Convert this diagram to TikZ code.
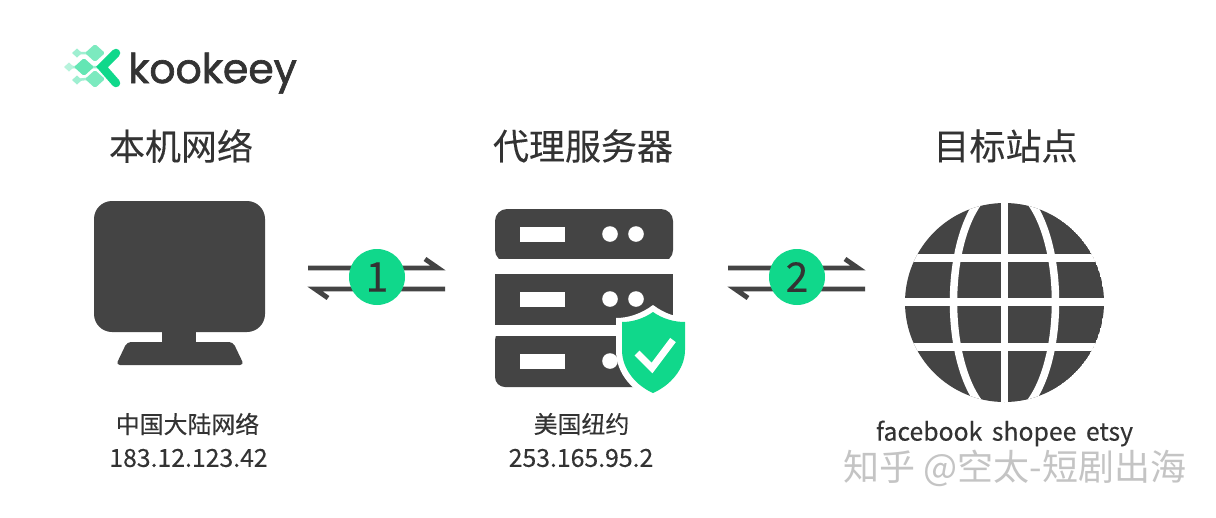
\documentclass[tikz,border=0pt]{standalone}
\usepackage{fontspec}
\setmainfont{Noto Sans CJK SC}[FakeBold=0.25]
\newfontfamily\logofont{Poppins}[FakeBold=1.6]
\newfontfamily\wmfont{Noto Sans CJK SC}
\definecolor{ink}{HTML}{444444}
\definecolor{txt}{HTML}{333333}
\definecolor{mint}{HTML}{10D88B}
\definecolor{wm}{HTML}{C4C4C4}
\tikzset{
  title/.style={text=txt,font=\fontsize{36}{36}\selectfont,inner sep=0pt,anchor=center},
  sub/.style={text=txt,font=\fontsize{23.9}{24}\selectfont,inner sep=0pt,anchor=center},
  num/.style={text=txt,font=\fontsize{24.8}{25}\selectfont,inner sep=0pt,anchor=center},
  wire/.style={draw=ink,line width=4.8pt,line join=miter,miter limit=10},
  badge/.style={circle,fill=mint,minimum size=56pt,inner sep=0pt,text=txt,font=\fontsize{41}{41}\selectfont},
  gridline/.style={draw=white,line width=7.5pt},
  slot/.style={fill=white},
}
\begin{document}
\begin{tikzpicture}[x=1pt,y=-1pt]
\useasboundingbox (0,0) rectangle (1216,517);
\fill[white] (0,0) rectangle (1216,517);
% logo
\draw[mint!40,line width=2.5pt] (77,53) -- (95,53) (69,67) -- (84,67) -- (103,67) (77,80) -- (95,78);
\fill[mint!55,rounded corners=1.5pt] (85,53) -- (95,44) -- (105,53) -- (95,62) -- cycle;
\fill[mint!65,rounded corners=1.5pt] (74,67) -- (84,58) -- (94,67) -- (84,76) -- cycle;
\fill[mint!55,rounded corners=1.5pt] (85,79) -- (95,70) -- (105,79) -- (95,88) -- cycle;
\fill[mint!40] (72,53) -- (77,48.5) -- (82,53) -- (77,57.5) -- cycle;
\fill[mint!30] (64,67) -- (69,62.5) -- (74,67) -- (69,71.5) -- cycle;
\fill[mint!40] (72,80) -- (77,75.5) -- (82,80) -- (77,84.5) -- cycle;
\draw[mint,line width=8.5pt,line cap=round,line join=miter] (116,53) -- (102,67) -- (116,83);
\node[anchor=base west,inner sep=0pt,text=txt] (logo) at (128,83) {\logofont\fontsize{41}{41}\selectfont kookeey};
% titles
\node[title] (t1) at (181,146) {本机网络};
\node[title] (t2) at (583,146) {代理服务器};
\node[title] (t3) at (1005.5,146) {目标站点};
% monitor
\fill[ink,rounded corners=18pt] (94,201) rectangle (265,332);
\fill[ink] (162,330) rectangle (196,344);
\fill[ink,rounded corners=4pt] (127,342) -- (233,342) -- (244,365) -- (116,365) -- cycle;
% server
\fill[ink,rounded corners=12pt] (495,262) -- (495,209) -- (673,209) -- (673,262) -- cycle;
\fill[white] (490,259) rectangle (680,268);
\fill[ink] (495,274) rectangle (673,325);
\fill[ink,rounded corners=10pt] (495,330) -- (673,330) -- (673,387) -- (495,387) -- cycle;
\fill[white] (490,325) rectangle (680,336);
\foreach \ya/\yb/\yc in {227/242/234,292/307/299,354/369/361}{
  \fill[slot] (520,\ya) rectangle (565,\yb);
  \fill[slot] (610,\yc) circle[radius=7.8pt];
  \fill[slot] (636,\yc) circle[radius=7.8pt];
}
% shield
\fill[white] (653,305) .. controls (665,314) and (678,318) .. (691,318) -- (691,350) .. controls (691,375) and (672,392) .. (653,400) .. controls (634,392) and (616,375) .. (616,350) -- (616,318) .. controls (628,318) and (641,314) .. (653,305) -- cycle;
\fill[mint] (653,312) .. controls (663,319) and (674,322) .. (685,322) -- (685,350) .. controls (685,370) and (669,386) .. (653,393) .. controls (637,386) and (622,370) .. (622,350) -- (622,322) .. controls (632,322) and (643,319) .. (653,312) -- cycle;
\draw[white,line width=7pt] (637,353) -- (652,368) -- (673,340);
% globe
\begin{scope}
\clip (1004.5,302.5) circle[radius=99.5pt];
\fill[ink] (1004.5,302.5) circle[radius=99.5pt];
\draw[gridline] (1004.5,200) -- (1004.5,405);
\draw[gridline] (900,258) -- (1110,258);
\draw[gridline] (900,302) -- (1110,302);
\draw[gridline] (900,347) -- (1110,347);
\draw[gridline] (1004.5,302) ellipse[x radius=51,y radius=116];
\end{scope}
% links
\coordinate (a1) at (308,268); \coordinate (a2) at (438,268);
\coordinate (b1) at (445,289); \coordinate (b2) at (315,289);
\coordinate (c1) at (728,268); \coordinate (c2) at (858,268);
\coordinate (d1) at (865,289); \coordinate (d2) at (735,289);
\draw[wire] (a1) -- (a2) -- ++(-13,-9);
\draw[wire] (b1) -- (b2) -- ++(13,9);
\draw[wire] (c1) -- (c2) -- ++(-13,-9);
\draw[wire] (d1) -- (d2) -- ++(13,9);
\node[badge] (n1) at (377,277) {1};
\node[badge] (n2) at (797,277) {2};
% labels
\node[sub] (s1) at (187.5,424) {中国大陆网络};
\node[num] (s2) at (188.5,458) {183.12.123.42};
\node[sub] (s3) at (581.5,424) {美国纽约};
\node[num] (s4) at (581,458) {253.165.95.2};
\node[num] (s5) at (1004.5,433.5) {facebook\hspace{4pt} shopee\hspace{4pt} etsy};
\node[text=wm,font=\wmfont\fontsize{36}{36}\selectfont,inner sep=0pt] (wmk) at (1015,468) {知乎 @空太-短剧出海};
\end{tikzpicture}
\end{document}
